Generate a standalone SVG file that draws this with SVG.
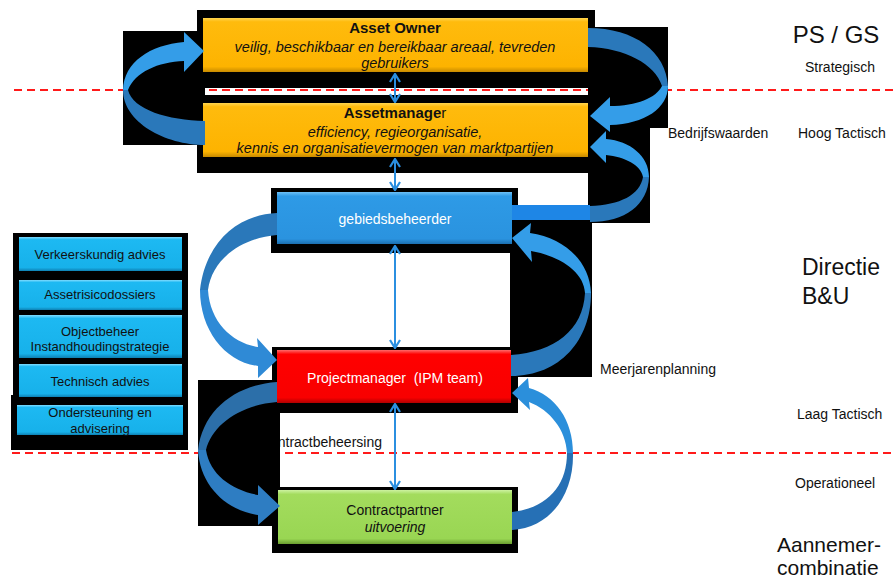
<svg xmlns="http://www.w3.org/2000/svg" width="893" height="579" viewBox="0 0 893 579">
<defs>
<linearGradient id="gOr" x1="0" y1="0" x2="0" y2="1"><stop offset="0" stop-color="#FFD54F"/><stop offset="0.07" stop-color="#FFBB0D"/><stop offset="0.9" stop-color="#FDB300"/><stop offset="1" stop-color="#C78A00"/></linearGradient>
<linearGradient id="gBl" x1="0" y1="0" x2="0" y2="1"><stop offset="0" stop-color="#6CC0F6"/><stop offset="0.08" stop-color="#2E9AE6"/><stop offset="0.9" stop-color="#2A93DF"/><stop offset="1" stop-color="#1C6FB0"/></linearGradient>
<linearGradient id="gRd" x1="0" y1="0" x2="0" y2="1"><stop offset="0" stop-color="#FF6A6A"/><stop offset="0.08" stop-color="#FF0000"/><stop offset="0.9" stop-color="#F80000"/><stop offset="1" stop-color="#B00000"/></linearGradient>
<linearGradient id="gGr" x1="0" y1="0" x2="0" y2="1"><stop offset="0" stop-color="#CDF2A0"/><stop offset="0.08" stop-color="#A3DC5D"/><stop offset="0.9" stop-color="#99D653"/><stop offset="1" stop-color="#6A9E30"/></linearGradient>
<linearGradient id="gCy" x1="0" y1="0" x2="0" y2="1"><stop offset="0" stop-color="#80DCFF"/><stop offset="0.08" stop-color="#1DB9F2"/><stop offset="0.9" stop-color="#17B1EA"/><stop offset="1" stop-color="#0E80B2"/></linearGradient>
<marker id="ah" viewBox="0 0 10 12" refX="9" refY="6" markerWidth="10" markerHeight="12" markerUnits="userSpaceOnUse" orient="auto-start-reverse">
<path d="M1,1 L9,6 L1,11" fill="none" stroke="#2B8FE0" stroke-width="2.2"/>
</marker>
<style>
text{font-family:"Liberation Sans",Arial,sans-serif;}
.blk{fill:#000;}
.dash{stroke:#FF1A1A;stroke-width:2;stroke-dasharray:8,5;fill:none;}
.lbl{font-size:14px;fill:#111;}
.big{font-size:23px;fill:#111;}
.bt{font-size:14px;fill:#111;text-anchor:middle;}
.wt{font-size:14px;fill:#fff;text-anchor:middle;white-space:pre;}
.side{font-size:13px;fill:#111;text-anchor:middle;}
.it{font-style:italic;font-size:14.5px;}
.dbl{stroke:#2B8FE0;stroke-width:2;fill:none;marker-start:url(#ah);marker-end:url(#ah);}
.dk{fill:#2A78BA;}
.lt{fill:#349DE8;}
</style>
</defs>
<rect width="893" height="579" fill="#fff"/>

<!-- level divider lines -->
<line class="dash" x1="14" y1="90" x2="893" y2="90"/>
<line class="dash" x1="12" y1="453" x2="893" y2="453"/>

<!-- side labels -->
<g id="labels">
<text x="836" y="43" style="font-size:24px;fill:#111;text-anchor:middle">PS / GS</text>
<text x="840" y="72" class="lbl" style="text-anchor:middle">Strategisch</text>
<text x="668" y="138" class="lbl">Bedrijfswaarden</text>
<text x="798" y="138" class="lbl">Hoog Tactisch</text>
<text x="802" y="275" class="big">Directie</text>
<text x="802" y="304" class="big">B&amp;U</text>
<text x="600" y="374" class="lbl">Meerjarenplanning</text>
<text x="797" y="419" class="lbl">Laag Tactisch</text>
<text x="795" y="488" class="lbl">Operationeel</text>
<text x="777" y="552" style="font-size:21px;fill:#111">Aannemer-</text>
<text x="777" y="575" style="font-size:21px;fill:#111">combinatie</text>
<text x="382" y="447" class="lbl" style="text-anchor:end">Contractbeheersing</text>
</g>

<!-- black backgrounds -->
<g id="backgrounds">
<rect class="blk" x="197" y="10" width="398" height="78"/>
<rect class="blk" x="197" y="95" width="398" height="78"/>
<rect class="blk" x="123" y="31" width="82" height="114"/>
<rect class="blk" x="588" y="27" width="80" height="101"/>
<rect class="blk" x="588" y="128" width="62" height="95"/>
<rect class="blk" x="271" y="188" width="247" height="65"/>
<rect class="blk" x="510" y="217" width="82" height="160"/>
<rect class="blk" x="272" y="347" width="246" height="66"/>
<rect class="blk" x="198" y="380" width="82" height="146"/>
<rect class="blk" x="272" y="487" width="246" height="66"/>
<rect class="blk" x="13" y="233" width="175" height="164"/>
<rect class="blk" x="11" y="395" width="177" height="55"/>
</g>

<!-- nodes -->
<g id="asset-owner">
<rect x="203" y="18" width="385" height="54" fill="url(#gOr)"/>
<text x="395" y="33" class="bt" style="font-weight:bold;font-size:15px">Asset Owner</text>
<text x="395" y="52" class="bt it">veilig, beschikbaar en bereikbaar areaal, tevreden</text>
<text x="395" y="68" class="bt it">gebruikers</text>
</g>
<g id="assetmanager">
<rect x="203" y="103" width="385" height="54" fill="url(#gOr)"/>
<text x="395" y="118" class="bt" style="font-size:15px"><tspan style="font-weight:bold">Assetmanage</tspan>r</text>
<text x="395" y="137" class="bt it">efficiency, regieorganisatie,</text>
<text x="395" y="153" class="bt it">kennis en organisatievermogen van marktpartijen</text>
</g>
<g id="gebiedsbeheerder">
<rect x="277" y="192" width="235" height="52" fill="url(#gBl)"/>
<text x="395" y="224" class="wt">gebiedsbeheerder</text>
</g>
<g id="projectmanager">
<rect x="277" y="350" width="234" height="53" fill="url(#gRd)"/>
<text x="395" y="383" class="wt" xml:space="preserve">Projectmanager  (IPM team)</text>
</g>
<g id="contractpartner">
<rect x="278" y="490" width="234" height="54" fill="url(#gGr)"/>
<text x="395" y="515" class="bt">Contractpartner</text>
<text x="395" y="532" class="bt it" style="font-size:14px">uitvoering</text>
</g>
<g id="side-panel">
<rect x="19" y="237" width="163" height="34" fill="url(#gCy)"/>
<text x="100" y="259" class="side">Verkeerskundig advies</text>
<rect x="19" y="280" width="163" height="30" fill="url(#gCy)"/>
<text x="100" y="299" class="side">Assetrisicodossiers</text>
<rect x="19" y="315" width="163" height="43" fill="url(#gCy)"/>
<text x="100" y="336" class="side">Objectbeheer</text>
<text x="100" y="351" class="side">Instandhoudingstrategie</text>
<rect x="19" y="364" width="163" height="33" fill="url(#gCy)"/>
<text x="100" y="386" class="side">Technisch advies</text>
<rect x="17" y="405" width="166" height="30" fill="url(#gCy)"/>
<text x="100" y="417" class="side">Ondersteuning en</text>
<text x="100" y="433" class="side">advisering</text>
</g>

<!-- connectors -->
<g id="connectors">
<!-- curved arrows -->
<path class="dk" d="M205,121 C168,120 133,110 128,90 L123,90 C123,122 165,145 205,145 Z"/>
<path class="lt" d="M123,90 C124,62 150,45 184,42 L184,32 L204,51 L184,72 L184,61 C158,62 135,72 128,90 Z"/>

<path class="dk" d="M588,28 C635,28 666,52 668,86 L662,86 C655,64 625,48 588,47 Z"/>
<path class="lt" d="M668,86 C668,108 645,124 610,125 L610,132 L590,116 L610,97 L610,106 C637,106 656,98 662,86 Z"/>

<rect x="512" y="205" width="78" height="15" fill="#1E86E6"/>
<path class="dk" d="M590,206 C620,205 640,195 643,177 L649,177 C648,205 625,222 590,222 Z"/>
<path class="lt" d="M649,177 C649,156 630,141 606,139 L606,131 L590,147 L606,163 L606,155 C625,157 641,165 643,177 Z"/>

<path class="dk" d="M511,355 C555,352 583,330 585,293 L591,293 C591,340 560,376 511,376 Z"/>
<path class="lt" d="M591,293 C590,262 565,238 530,233 L531,223 L512,238 L532,262 L531,251 C560,256 584,272 585,293 Z"/>

<path class="dk" d="M277,213 C235,215 205,245 200,290 L208,290 C212,260 240,238 277,235 Z"/>
<path fill="#2F8AD6" d="M200,290 C200,330 225,362 258,366 L258,378 L277,360 L257,338 L258,347 C232,343 210,322 208,290 Z"/>

<path fill="#2C6FA9" d="M277,382 C235,385 203,410 198,450 L206,450 C212,425 240,405 277,402 Z"/>
<path fill="#2E7DC2" d="M198,450 C200,485 225,510 258,515 L258,525 L280,506 L258,485 L258,495 C232,490 210,475 206,450 Z"/>

<path fill="#2670B5" d="M512,512 C548,508 567,485 567,453 L573,453 C574,495 550,528 512,530 Z"/>
<path fill="#2B8FDB" d="M573,453 C573,420 555,395 529,388 L528,378 L512,393 L530,410 L529,402 C550,410 566,430 567,453 Z"/>

<!-- straight double arrows -->
<line class="dbl" x1="395" y1="74" x2="395" y2="102"/>
<line class="dbl" x1="395" y1="159" x2="395" y2="190"/>
<line class="dbl" x1="395" y1="246" x2="395" y2="348"/>
<line class="dbl" x1="395" y1="404" x2="395" y2="489"/>
</g>
</svg>
